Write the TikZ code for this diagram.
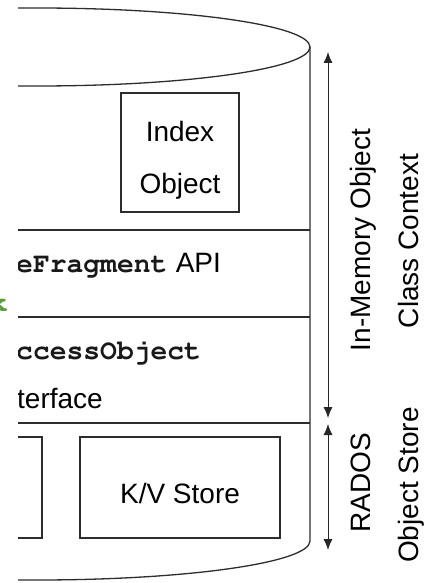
\documentclass[tikz,border=0pt]{standalone}
\usepackage{fontspec}
\setmainfont{Liberation Sans}
\newcommand{\courbf}{\fontencoding{T1}\fontfamily{pcr}\fontseries{b}\fontshape{n}\selectfont}
\usetikzlibrary{arrows.meta}
\definecolor{lc}{RGB}{45,45,45}
\definecolor{gk}{RGB}{88,158,58}
\tikzset{
  outline/.style={draw=lc, line width=1.3pt},
  txt/.style={inner sep=0pt, font=\fontsize{28}{32}\selectfont, text=black},
  codetxt/.style={inner sep=0pt, font=\courbf\fontsize{28}{32}\selectfont, text=black!90},
  span/.style={draw=black!85, line width=0.9pt, {Latex[length=11pt,width=9pt]}-{Latex[length=11pt,width=9pt]}}
}
\begin{document}
\begin{tikzpicture}[x=1pt,y=-1pt]
\useasboundingbox (0,0) rectangle (442,583);
% green fragment
\node[anchor=base west, inner sep=0pt, font=\courbf\fontsize{28}{32}\selectfont, text=gk] (gk) at (-9,311) {k};
\begin{scope}
\clip (18,0) rectangle (442,583);
% cylinder
\draw[outline] (37,47) ellipse [x radius=273, y radius=39];
\draw[outline] (310,47) -- (310,541) arc[start angle=0, end angle=180, x radius=273, y radius=39];
% layer separators
\coordinate (l1a) at (0,230); \coordinate (l1b) at (310,230);
\coordinate (l2a) at (0,317); \coordinate (l2b) at (310,317);
\coordinate (l3a) at (0,423); \coordinate (l3b) at (310,423);
\draw[outline] (l1a) -- (l1b);
\draw[outline] (l2a) -- (l2b);
\draw[outline] (l3a) -- (l3b);
% boxes
\draw[outline] (121,93) rectangle (239,212);
\node[txt, anchor=base] (idx) at (180,142) {Index};
\node[txt, anchor=base] (obj) at (180,193) {Object};
\draw[outline] (-40,437) rectangle (42,538);
\draw[outline] (80,437) rectangle (280,538);
\node[txt, anchor=base] (kv) at (180,503) {K/V Store};
% texts
\node[codetxt, anchor=base west] (frag) at (16,272) {eFragment};
\node[txt, anchor=base west] (api) at ([xshift=8pt]frag.base east) {API};
\node[codetxt, anchor=base west] (acc) at (16,359) {ccessObject};
\node[txt, anchor=base west] (intf) at (17,408) {terface};
\end{scope}
% span arrows
\coordinate (a1) at (328,52);
\coordinate (a2) at (328,418);
\coordinate (b1) at (328,424);
\coordinate (b2) at (328,550);
\draw[span] (a1) -- (a2);
\draw[span] (b1) -- (b2);
% side labels
\node[txt, rotate=90, anchor=base] (imo) at (370,240) {In-Memory Object};
\node[txt, rotate=90, anchor=base] (cc) at (418,241) {Class Context};
\node[txt, rotate=90, anchor=base] (rados) at (370,483) {RADOS};
\node[txt, rotate=90, anchor=base] (os) at (418,485) {Object Store};
\end{tikzpicture}
\end{document}
